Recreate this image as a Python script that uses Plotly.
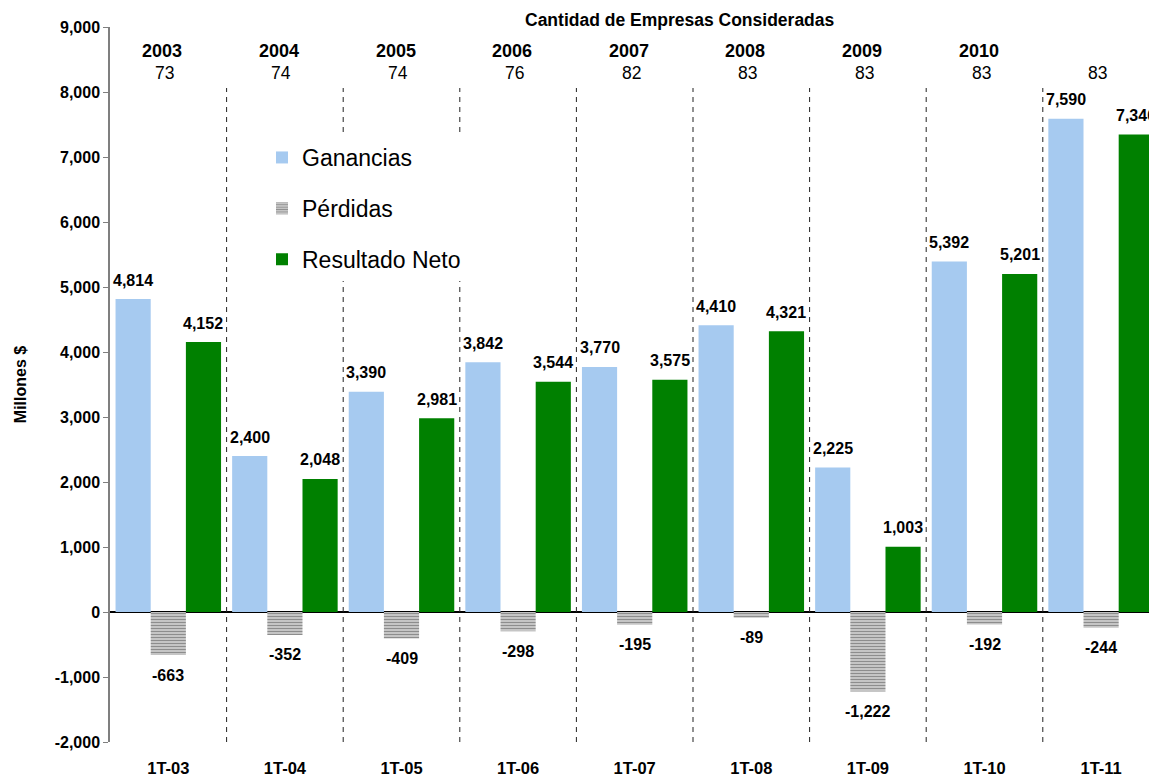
import plotly.graph_objects as go

categories = ["1T-03", "1T-04", "1T-05", "1T-06", "1T-07", "1T-08", "1T-09", "1T-10", "1T-11"]
ganancias = [4814, 2400, 3390, 3842, 3770, 4410, 2225, 5392, 7590]
perdidas = [-663, -352, -409, -298, -195, -89, -1222, -192, -244]
resultado_neto = [4152, 2048, 2981, 3544, 3575, 4321, 1003, 5201, 7346]
years = ["2003", "2004", "2005", "2006", "2007", "2008", "2009", "2010", ""]
empresas = [73, 74, 74, 76, 82, 83, 83, 83, 83]
y_ticks = [9000, 8000, 7000, 6000, 5000, 4000, 3000, 2000, 1000, 0, -1000, -2000]

FONT = "Liberation Sans, Arial, sans-serif"
YMIN, YMAX = -2000, 9000
W, H = 1149, 775
ML, MR, MT, MB = 110, 0, 27, 33
BARGAP = 0.095
plot_w = W - ML - MR
cat_w = 116.6
xmax = -0.5 + plot_w / cat_w
bar_px = cat_w * (1 - BARGAP) / 3

def fmt(v):
    return f"{v:,}"

series = [
    ("Ganancias", ganancias, dict(color="#A6CAF0", line=dict(width=0))),
    ("Pérdidas", perdidas, dict(color="white", line=dict(width=0),
                                pattern=dict(shape="-", fgcolor="#4A4A4A", bgcolor="#D0D0D0",
                                             size=3, solidity=0.45))),
    ("Resultado Neto", resultado_neto, dict(color="#008000", line=dict(width=0))),
]

fig = go.Figure()
annotations = []
lab_font = dict(family=FONT, size=16, color="black", weight="bold")
for k, (name, vals, marker) in enumerate(series):
    fig.add_trace(go.Bar(x=categories, y=vals, name=name, legendgroup=f"g{k}", marker=marker))
    for cat, v in zip(categories, vals):
        annotations.append(dict(x=cat, y=v, xref="x", yref="y", text=fmt(v), showarrow=False,
                                xshift=(k - 1) * bar_px, yshift=8.5 if v >= 0 else -9.5,
                                yanchor="bottom" if v >= 0 else "top", xanchor="center",
                                font=lab_font))

plot_h = H - MT - MB
def py(pix):
    return (H - MB - pix) / plot_h

# dashed separators between categories
for i in range(len(categories) - 1):
    fig.add_shape(type="line", xref="x", yref="paper", x0=i + 0.5, x1=i + 0.5,
                  y0=0, y1=py(88),
                  line=dict(color="#222222", width=1, dash="5px,5px"), layer="above")

annotations.append(dict(text="<b>Cantidad de Empresas Consideradas</b>", xref="paper", yref="paper",
                        x=(680 - ML) / plot_w, y=py(20), showarrow=False,
                        font=dict(family=FONT, size=17.5, color="black"),
                        xanchor="center", yanchor="middle"))
for i, (yr, n) in enumerate(zip(years, empresas)):
    if yr:
        annotations.append(dict(text=f"<b>{yr}</b>", xref="x", yref="paper", x=i - 0.05, y=py(51),
                                showarrow=False, font=dict(family=FONT, size=18, color="black"),
                                xanchor="center", yanchor="middle"))
    annotations.append(dict(text=str(n), xref="x", yref="paper", x=i - 0.03, y=py(73),
                            showarrow=False, font=dict(family=FONT, size=17.5, color="black"),
                            xanchor="center", yanchor="middle"))

fig.update_layout(
    width=W, height=H,
    margin=dict(l=ML, r=MR, t=MT, b=MB, autoexpand=False),
    paper_bgcolor="white", plot_bgcolor="white",
    barmode="group", bargap=BARGAP, bargroupgap=0,
    font=dict(family=FONT, color="black"),
    showlegend=True,
    legend=dict(x=(262 - ML) / plot_w, y=py(136), xanchor="left", yanchor="top",
                bgcolor="white", font=dict(family=FONT, size=23, color="black"),
                tracegroupgap=18, traceorder="grouped", itemclick=False),
    annotations=annotations,
    hovermode=False,
    xaxis=dict(type="category", range=[-0.5, xmax], showline=False, showgrid=False,
               ticks="", tickfont=dict(family=FONT, size=16.5, color="black", weight="bold"),
               ticklabelstandoff=14, zeroline=False),
    xaxis2=dict(overlaying="x", anchor="free", position=(0 - YMIN) / (YMAX - YMIN),
                range=[-0.5, xmax], tickmode="array", tickvals=list(range(len(categories))),
                ticks="outside", ticklen=4, tickcolor="black", showticklabels=False,
                showgrid=False, showline=False, zeroline=False),
    yaxis=dict(range=[YMIN, YMAX], tickmode="array", tickvals=y_ticks,
               ticktext=[fmt(v) for v in y_ticks], showgrid=False,
               showline=True, linecolor="#7F7F7F", linewidth=1.5,
               ticks="outside", ticklen=5, tickcolor="#7F7F7F",
               tickfont=dict(family=FONT, size=16, color="black", weight="bold"),
               zeroline=True, zerolinecolor="black", zerolinewidth=1.5,
               title=dict(text="<b>Millones $</b>", font=dict(family=FONT, size=16, color="black"),
                          standoff=24)),
)
fig.write_html("out.html", config={"displayModeBar": False},
               post_script="document.body.style.margin='0';")
